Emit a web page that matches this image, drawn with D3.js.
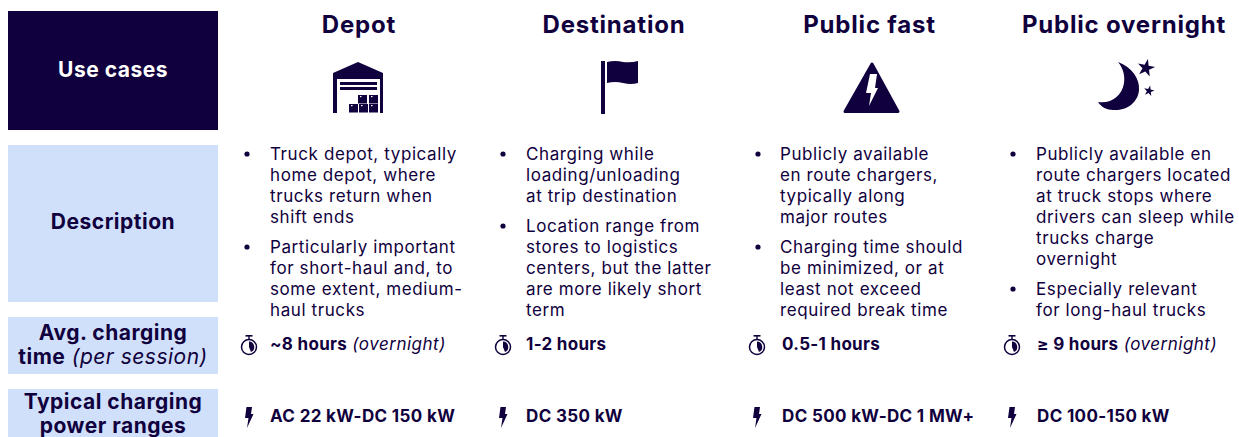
<!DOCTYPE html>
<html>
<head>
<meta charset="utf-8">
<script src="https://cdn.jsdelivr.net/npm/d3@7"></script>
<style>
  html, body { margin: 0; padding: 0; background: #fff; }
  svg { display: block; font-family: Inter, "Open Sans", sans-serif; }
</style>
</head>
<body>
<div id="chart"></div>
<script>
var navy = "#10003d";
var paleBlue = "#d0e0fb";

var useCases = ["Depot", "Destination", "Public fast", "Public overnight"];

var rowLabels = [
  [[["Use cases", true]]],
  [[["Description", true]]],
  [[["Avg. charging", true]], [["time", true], [" (per session)", false]]],
  [[["Typical charging", true]], [["power ranges", true]]]
];

var descriptions = [
  [["Truck depot, typically", "home depot, where", "trucks return when", "shift ends"],
   ["Particularly important", "for short-haul and, to", "some extent, medium-", "haul trucks"]],
  [["Charging while", "loading/unloading", "at trip destination"],
   ["Location range from", "stores to logistics", "centers, but the latter", "are more likely short", "term"]],
  [["Publicly available", "en route chargers,", "typically along", "major routes"],
   ["Charging time should", "be minimized, or at", "least not exceed", "required break time"]],
  [["Publicly available en", "route chargers located", "at truck stops where", "drivers can sleep while", "trucks charge", "overnight"],
   ["Especially relevant", "for long-haul trucks"]]
];

var chargingTimes = ["~8 hours", "1-2 hours", "0.5-1 hours", "\u2265 9 hours"];
var chargingNotes = [" (overnight)", "", "", " (overnight)"];
var powerRanges = ["AC 22 kW-DC 150 kW", "DC 350 kW", "DC 500 kW-DC 1 MW+", "DC 100-150 kW"];

var width = 1239, height = 437;

var rowBoxes = [
  { y: 11, h: 119, fill: navy, color: "#fff", textY: 77 },
  { y: 145, h: 157, fill: paleBlue, color: navy, textY: 229 },
  { y: 317, h: 57, fill: paleBlue, color: navy, textY: 340 },
  { y: 389, h: 48, fill: paleBlue, color: navy, textY: 409 }
];
var labelX = 8, labelW = 210;

// left edges of the text in each column, centre of each header, centre of the small icons
var textX = [270, 526, 780, 1036];
var valueX = [270, 526, 782, 1037];
var headerX = [359, 614, 869.5, 1124];
var bulletX = [247, 503, 758, 1013];
var iconX = [249, 503, 757, 1012];

var svg = d3.select("#chart").append("svg")
  .attr("width", width)
  .attr("height", height)
  .attr("viewBox", "0 0 " + width + " " + height);

// row label boxes
var rows = svg.selectAll("g.row")
  .data(rowBoxes)
  .enter().append("g").attr("class", "row");

rows.append("rect")
  .attr("x", labelX)
  .attr("y", function(d) { return d.y; })
  .attr("width", labelW)
  .attr("height", function(d) { return d.h; })
  .attr("fill", function(d) { return d.fill; });

rows.each(function(d, i) {
  var text = d3.select(this).append("text")
    .attr("text-anchor", "middle")
    .attr("fill", d.color)
    .attr("font-size", 21)
    .attr("letter-spacing", 0.5);
  rowLabels[i].forEach(function(runs, j) {
    runs.forEach(function(run, k) {
      var t = text.append("tspan")
        .attr("font-weight", run[1] ? 700 : 400)
        .attr("font-style", run[1] ? "normal" : "italic")
        .text(run[0]);
      if (k == 0) {
        t.attr("x", labelX + labelW / 2).attr("y", d.textY + j * 24);
      }
    });
  });
});

// column headers
svg.selectAll("text.header")
  .data(useCases)
  .enter().append("text")
  .attr("class", "header")
  .attr("x", function(d, i) { return headerX[i]; })
  .attr("y", 33)
  .attr("text-anchor", "middle")
  .attr("fill", navy)
  .attr("font-size", 24)
  .attr("letter-spacing", 0.8)
  .attr("font-weight", 700)
  .text(function(d) { return d; });

// icons, each drawn in its own local coordinates
var depot = svg.append("g").attr("transform", "translate(333,62)");
depot.append("path").attr("fill", navy)
  .attr("d", "M25,0 L50,11 L50,51 L47,51 L47,17 L4,17 L4,51 L0,51 L0,11 Z");
depot.append("rect").attr("x", 7).attr("y", 20).attr("width", 37).attr("height", 3).attr("fill", navy);
depot.append("rect").attr("x", 7).attr("y", 25).attr("width", 37).attr("height", 3).attr("fill", navy);
[[25, 33], [36, 33], [16, 42], [26, 42], [36, 42]].forEach(function(b) {
  depot.append("rect").attr("x", b[0]).attr("y", b[1]).attr("width", 9).attr("height", 8.5).attr("fill", navy);
  depot.append("rect").attr("x", b[0] + 2).attr("y", b[1] + 1).attr("width", 1.5).attr("height", 1.2).attr("fill", "#fff");
});

var flag = svg.append("g").attr("transform", "translate(601,61)");
flag.append("rect").attr("x", 0).attr("y", 0).attr("width", 4).attr("height", 53).attr("fill", navy);
flag.append("path").attr("fill", navy)
  .attr("d", "M6,1 Q14,-1 22,1 Q30,2 37,0 L37,22 Q30,24 22,22 Q14,20 6,22 Z");

var triangle = svg.append("g").attr("transform", "translate(843,62)");
triangle.append("path").attr("fill", navy).attr("stroke", navy).attr("stroke-width", 3).attr("stroke-linejoin", "round")
  .attr("d", "M29,2 L55,49.5 L2,49.5 Z");
triangle.append("path").attr("fill", "#fff")
  .attr("d", "M27,12 L34,12 L32,26 L35,26 L26,44 L28,31 L23,31 Z");

var moon = svg.append("g").attr("transform", "translate(1098,62)");
moon.append("path").attr("fill", navy)
  .attr("d", "M20,0 C34,5 42,17 41,28 C40,41 28,49 15,48 C9,48 3,45 0,40 C13,42 24,34 26,21 C27,13 25,6 20,0 Z");
moon.append("path").attr("fill", navy)
  .attr("d", d3.symbol().type(d3.symbolStar).size(95)())
  .attr("transform", "translate(48,6) rotate(12)");
moon.append("path").attr("fill", navy)
  .attr("d", d3.symbol().type(d3.symbolStar).size(34)())
  .attr("transform", "translate(51,29) rotate(12)");

// description bullets
var lineHeight = 21, paraGap = 9, firstBaseline = 159.5;
descriptions.forEach(function(paras, c) {
  var y = firstBaseline;
  paras.forEach(function(lines) {
    svg.append("circle")
      .attr("cx", bulletX[c])
      .attr("cy", y - 5.5)
      .attr("r", 2.6)
      .attr("fill", navy);
    svg.selectAll(null)
      .data(lines)
      .enter().append("text")
      .attr("x", textX[c])
      .attr("y", function(d, i) { return y + i * lineHeight; })
      .attr("fill", navy)
      .attr("font-size", 17)
      .attr("letter-spacing", 0.6)
      .text(function(d) { return d; });
    y += lines.length * lineHeight + paraGap;
  });
});

// stopwatch icon + charging time
chargingTimes.forEach(function(t, c) {
  var g = svg.append("g").attr("transform", "translate(" + iconX[c] + ",347)");
  g.append("circle").attr("r", 7.5).attr("fill", "#fff").attr("stroke", navy).attr("stroke-width", 1.5);
  g.append("path").attr("fill", navy).attr("d", "M0,0 L0,-5.5 A5.5,5.5 0 0 1 2,5 Z");
  g.append("rect").attr("x", -3.5).attr("y", -12).attr("width", 7).attr("height", 1.6).attr("fill", navy);
  g.append("rect").attr("x", -0.7).attr("y", -11).attr("width", 1.4).attr("height", 3).attr("fill", navy);

  var text = svg.append("text")
    .attr("x", valueX[c])
    .attr("y", 350)
    .attr("fill", navy)
    .attr("font-size", 17);
  text.append("tspan").attr("font-weight", 700).attr("letter-spacing", 0.3).text(t);
  text.append("tspan").attr("font-style", "italic").attr("letter-spacing", 0.5).text(chargingNotes[c]);
});

// bolt icon + power range
powerRanges.forEach(function(t, c) {
  svg.append("path")
    .attr("transform", "translate(" + iconX[c] + ",417)")
    .attr("fill", navy)
    .attr("d", "M-2.5,-10 L3,-10 L2,-3 L4.5,-3 L-2,11 L-0.5,1 L-4,1 Z");
  svg.append("text")
    .attr("x", valueX[c])
    .attr("y", 422)
    .attr("fill", navy)
    .attr("font-size", 17)
    .attr("letter-spacing", 0.35)
    .attr("font-weight", 700)
    .text(t);
});
</script>
</body>
</html>
